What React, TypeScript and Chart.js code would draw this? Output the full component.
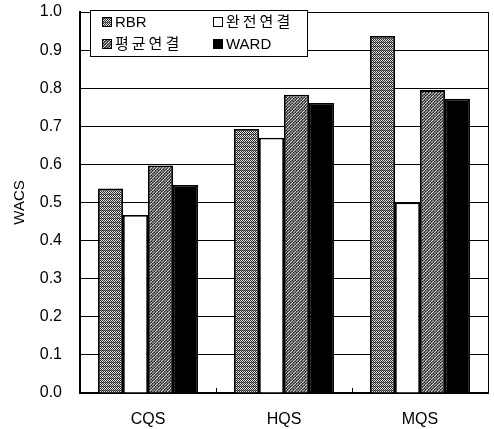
import React, { useEffect, useRef } from "react";
import { Chart, registerables } from "chart.js";

Chart.register(...registerables);

const categories = ["CQS", "HQS", "MQS"];
const seriesNames = ["RBR", "완전연결", "평균연결", "WARD"];
const rbrValues = [0.537, 0.693, 0.937];
const completeValues = [0.467, 0.67, 0.5];
const averageValues = [0.597, 0.783, 0.795];
const wardValues = [0.546, 0.761, 0.772];
const yTicks = [0, 0.1, 0.2, 0.3, 0.4, 0.5, 0.6, 0.7, 0.8, 0.9, 1.0];

const LATIN = "'Liberation Sans', Arial, Helvetica, sans-serif";
const MIXED = "'Liberation Sans', 'Noto Sans CJK KR', sans-serif";

// Small greyscale tiles used as print-style textures for the bars.
function makeTexture(kind: "speckle" | "hatch"): CanvasPattern | string {
  const n = kind === "speckle" ? 4 : 6;
  const c = document.createElement("canvas");
  c.width = n;
  c.height = n;
  const g = c.getContext("2d");
  if (!g) return "#808080";
  const img = g.createImageData(n, n);
  for (let y = 0; y < n; y++) {
    for (let x = 0; x < n; x++) {
      let v: number;
      if (kind === "speckle") {
        if ((x + y) % 2 === 0) v = 45;
        else if (x % 2 === 1 && y % 4 === 2) v = 120;
        else v = 225;
      } else {
        const d = (x + y) % 6;
        if (d === 0) v = 215;
        else if (d === 3) v = 160;
        else v = (x * 2 + y) % 3 === 0 ? 40 : 95;
      }
      const i = (y * n + x) * 4;
      img.data[i] = v;
      img.data[i + 1] = v;
      img.data[i + 2] = v;
      img.data[i + 3] = 255;
    }
  }
  g.putImageData(img, 0, 0);
  return g.createPattern(c, "repeat") || "#808080";
}

const frameAndLegend = {
  id: "frameAndLegend",
  afterDatasetsDraw(chart: any) {
    const { ctx, chartArea } = chart;
    const xs = chart.scales.x;
    ctx.save();
    // right frame edge
    ctx.strokeStyle = "#000";
    ctx.lineWidth = 1;
    ctx.beginPath();
    ctx.moveTo(chartArea.right + 0.5, chartArea.top);
    ctx.lineTo(chartArea.right + 0.5, chartArea.bottom);
    ctx.stroke();
    // inward ticks between categories
    for (let i = 0; i < categories.length - 1; i++) {
      const x = Math.round((xs.getPixelForValue(i) + xs.getPixelForValue(i + 1)) / 2) + 0.5;
      ctx.beginPath();
      ctx.moveTo(x, chartArea.bottom);
      ctx.lineTo(x, chartArea.bottom - 5);
      ctx.stroke();
    }
    ctx.restore();
  },
  afterDraw(chart: any) {
    const { ctx } = chart;
    const box = { x: 90.5, y: 10.5, w: 217, h: 46 };
    ctx.save();
    ctx.fillStyle = "#fff";
    ctx.fillRect(box.x, box.y, box.w, box.h);
    ctx.strokeStyle = "#000";
    ctx.lineWidth = 1;
    ctx.strokeRect(box.x, box.y, box.w, box.h);
    const cols = [102, 213];
    const rows = [22, 44];
    chart.data.datasets.forEach((ds: any, i: number) => {
      const cx = cols[i % 2];
      const cy = rows[Math.floor(i / 2)];
      ctx.fillStyle = ds.backgroundColor;
      ctx.fillRect(cx, cy - 5, 10, 10);
      ctx.strokeStyle = "#000";
      ctx.lineWidth = 1;
      ctx.strokeRect(cx + 0.5, cy - 4.5, 9, 9);
      const korean = /[가-힣]/.test(ds.label);
      ctx.font = `15px ${MIXED}`;
      (ctx as any).letterSpacing = korean ? "3px" : "0px";
      ctx.fillStyle = "#000";
      ctx.textBaseline = "middle";
      ctx.textAlign = "left";
      ctx.fillText(ds.label, cx + 13, cy + 1);
    });
    ctx.restore();
  },
};

export default function App() {
  const canvasRef = useRef<HTMLCanvasElement | null>(null);

  useEffect(() => {
    const canvas = canvasRef.current;
    if (!canvas) return;
    const speckle = makeTexture("speckle");
    const hatch = makeTexture("hatch");
    const values = [rbrValues, completeValues, averageValues, wardValues];
    const fills = [speckle, "#ffffff", hatch, "#000000"];

    const chart = new Chart(canvas, {
      type: "bar",
      data: {
        labels: categories,
        datasets: seriesNames.map((name, i) => ({
          label: name,
          data: values[i],
          backgroundColor: fills[i] as any,
          borderColor: "#000",
          borderWidth: 1.8,
          borderSkipped: "bottom",
          categoryPercentage: 0.735,
          barPercentage: 1.0,
        })),
      },
      options: {
        responsive: false,
        animation: false,
        events: [],
        layout: { padding: { left: 0, right: 6, top: 12, bottom: 0 } },
        plugins: {
          legend: { display: false },
          tooltip: { enabled: false },
        },
        scales: {
          x: {
            grid: { display: false, drawTicks: false },
            border: { display: true, color: "#000", width: 2 },
            ticks: {
              color: "#000",
              padding: 17,
              font: { family: LATIN, size: 16 },
            },
            afterFit(scale: any) {
              scale.height = 36;
              scale.paddingLeft = 0;
              scale.paddingRight = 0;
            },
          },
          y: {
            min: 0,
            max: 1.0,
            afterBuildTicks(scale: any) {
              scale.ticks = yTicks.map((v) => ({ value: v }));
            },
            grid: { color: "#000", lineWidth: 1, drawTicks: false },
            border: { display: true, color: "#000", width: 2 },
            ticks: {
              color: "#000",
              padding: 18,
              font: { family: LATIN, size: 16 },
              callback: (v: any) => Number(v).toFixed(1),
            },
            title: {
              display: true,
              text: "WACS",
              color: "#000",
              font: { family: LATIN, size: 15 },
              padding: { top: 11, bottom: 0 },
            },
            afterFit(scale: any) {
              scale.width = 80;
              scale.paddingTop = 0;
              scale.paddingBottom = 0;
            },
          },
        },
      },
      plugins: [frameAndLegend],
    });
    return () => chart.destroy();
  }, []);

  return (
    <div
      style={{
        position: "fixed",
        left: 0,
        top: 0,
        width: 494,
        height: 429,
        background: "#fff",
      }}
    >
      <canvas ref={canvasRef} width={494} height={429} style={{ display: "block" }} />
    </div>
  );
}
